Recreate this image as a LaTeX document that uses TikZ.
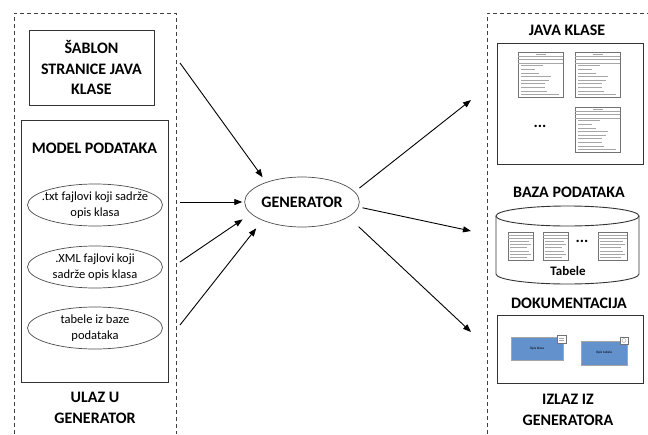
\documentclass[tikz,border=0pt]{standalone}
\usepackage{fontspec}
\setmainfont{Carlito}
\usetikzlibrary{arrows.meta, shapes.geometric}
\definecolor{docblue}{RGB}{98,145,204}

\begin{document}
\begin{tikzpicture}[x=1pt, y=-1pt, >={Triangle[length=8pt, width=6pt]},
  title/.style={font=\bfseries\fontsize{16}{20.5}\selectfont, align=center},
  frame/.style={draw=black!80, line width=0.9pt},
  region/.style={draw=black!75, line width=0.8pt, dash pattern=on 4pt off 3pt},
  oval/.style={draw=black!70, ellipse, line width=0.7pt, inner sep=0pt, minimum width=135pt, minimum height=42pt},
  ovaltext/.style={align=center, font=\fontsize{12.5}{16}\selectfont},
  flow/.style={->, line width=0.9pt},
  uml/.style={draw=black!55, fill=white, line width=0.5pt},
  umlrow/.style={draw=black!35, line width=0.4pt}]
  \useasboundingbox (0,0) rectangle (648,434);

  % Input side
  \draw[region] (14,434) -- (14,13) -- (176,13) -- (176,434);
  \node[frame, title, minimum width=125pt, minimum height=75pt] (sablon) at (91.5,67.5) {ŠABLON\\STRANICE JAVA\\KLASE};
  \node[frame, minimum width=147pt, minimum height=262pt] (model) at (94.5,251) {};
  \node[title] (modelt) at (94.5,148) {MODEL PODATAKA};
  \node[oval] (txt) at (95,205) {};
  \node[ovaltext] (txtl) at (txt) {.txt fajlovi koji sadrže\\opis klasa};
  \node[oval] (xml) at (95,267) {};
  \node[ovaltext] (xmll) at (xml) {.XML fajlovi koji\\sadrže opis klasa};
  \node[oval] (tab) at (95,328) {};
  \node[ovaltext] (tabl) at (tab) {tabele iz baze\\podataka};
  \node[title] (ulaz) at (95,408) {ULAZ U\\GENERATOR};

  % Generator
  \node[oval, minimum width=114pt, minimum height=50pt, font=\bfseries\fontsize{16}{18}\selectfont] (gen) at (302,202) {GENERATOR};

  % Output side
  \draw[region] (487,434) -- (487,13) -- (648,13);

  % Java klase
  \node[title] (javat) at (567,30) {JAVA KLASE};
  \node[frame, minimum width=146pt, minimum height=121pt] (java) at (570,103.5) {};
  \foreach \cx/\cy in {518/52, 575/52, 575/107} {
    \draw[uml] (\cx,\cy) rectangle ++(45,45);
    \draw[umlrow] (\cx,\cy+4) -- ++(45,0);
    \draw[umlrow] (\cx,\cy+7) -- ++(45,0);
    \draw[umlrow] (\cx,\cy+11) -- ++(45,0);
    \draw[umlrow] (\cx+18,\cy+2) -- ++(10,0);
    \foreach \k/\len in {1/22, 2/14, 3/18, 4/30, 5/28, 6/24, 7/24, 8/26, 9/38}
      \draw[umlrow] (\cx+3,\cy+10+3.6*\k) -- ++(\len,0);
  }
  \node[font=\bfseries\fontsize{16}{18}\selectfont] (jdots) at (540,126) {...};

  % Baza podataka
  \node[title] (bazat) at (569,192) {BAZA PODATAKA};
  \draw[frame, fill=white] (567.5,216) ellipse [x radius=71.5, y radius=10];
  \draw[frame] (496,216) -- (496,274) arc[start angle=180, end angle=0, x radius=71.5, y radius=10] -- (639,216);
  \foreach \cx/\w in {508/25, 543/25, 598/29} {
    \draw[uml] (\cx,232) rectangle ++(\w,28);
    \draw[umlrow] (\cx,235) -- ++(\w,0);
    \draw[umlrow] (\cx,238) -- ++(\w,0);
    \foreach \k in {1,...,6}
      \draw[umlrow] (\cx+2,238+3.2*\k) -- ++({\w-8+mod(\k,3)*2},0);
  }
  \node[font=\bfseries\fontsize{16}{18}\selectfont] (bdots) at (582,241) {...};
  \node[font=\bfseries\fontsize{13}{15}\selectfont] (tabele) at (568,271) {Tabele};

  % Dokumentacija
  \node[title] (dokt) at (569,303) {DOKUMENTACIJA};
  \node[frame, minimum width=146pt, minimum height=68pt] (dok) at (570,349) {};
  \node[draw=black!35, line width=1pt, fill=docblue, minimum width=52pt, minimum height=23pt, font=\fontsize{3.5}{4}\selectfont] (opisk) at (537,348.5) {Opis klasa};
  \node[draw=black!35, line width=1pt, fill=docblue, minimum width=46pt, minimum height=24pt, font=\fontsize{3.5}{4}\selectfont] (opist) at (604,353) {Opis tabela};
  \draw[uml] (557,335) rectangle (566,343);
  \draw[umlrow] (559,338) -- (564,338) (559,340) -- (564,340);
  \draw[uml] (620,337) rectangle (628,344);
  \draw[umlrow] (624,340.5) circle (2);
  \node[title] (izlaz) at (568,410) {IZLAZ IZ\\GENERATORA};

  % Connections
  \coordinate (in1) at (180,63);
  \coordinate (in2) at (180,202);
  \coordinate (in3) at (180,262);
  \coordinate (in4) at (180,325);
  \coordinate (out1) at (471,100);
  \coordinate (out2) at (471,231);
  \coordinate (out3) at (471,332);
  \draw[flow, shorten >=6pt] (in1) -- (gen.151);
  \draw[flow, shorten >=2pt] (in2) -- (gen.west);
  \draw[flow, shorten >=10pt] (in3) -- (gen.193);
  \draw[flow, shorten >=10pt] (in4) -- (gen.205);
  \draw[flow, shorten <=6pt] (gen.11) -- (out1);
  \draw[flow, shorten <=4pt] (gen.-5) -- (out2);
  \draw[flow, shorten <=14pt] (gen.-18) -- (out3);
\end{tikzpicture}
\end{document}
